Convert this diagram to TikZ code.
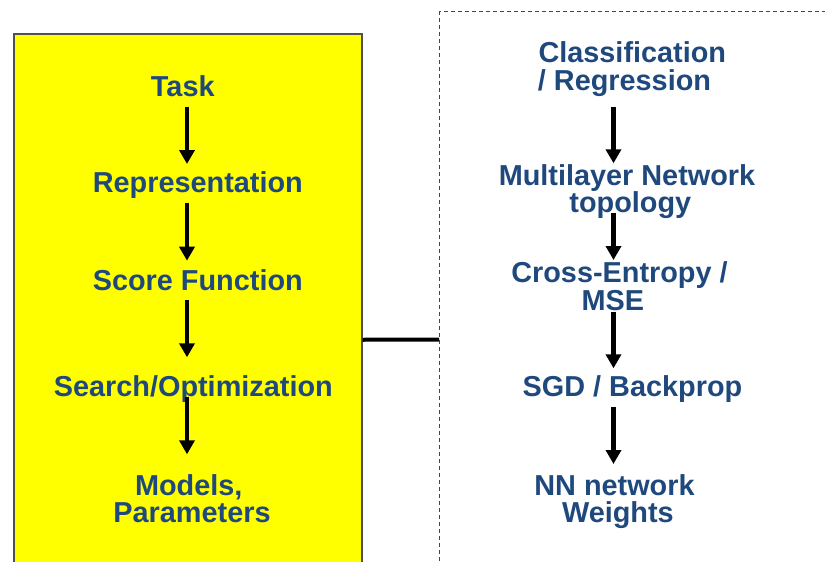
\documentclass[tikz,border=0pt]{standalone}
\usepackage{fontspec}
\setmainfont{Liberation Sans}
\usetikzlibrary{arrows.meta}
\definecolor{nnblue}{RGB}{31,73,125}
\definecolor{boxgray}{RGB}{80,80,80}
\definecolor{dashgray}{RGB}{70,70,70}
\definecolor{stageyellow}{RGB}{255,255,0}
\begin{document}
\begin{tikzpicture}[x=1pt,y=-1pt,
  lbl/.style={font=\bfseries\fontsize{28.85pt}{27.7pt}\selectfont,
    text=nnblue, align=center, inner sep=0pt, anchor=base},
  flow/.style={line width=4.2pt, -{Triangle[width=15pt,length=14pt]}},
  stagebox/.style={draw=boxgray, line width=1.5pt, fill=stageyellow,
    inner sep=0pt, anchor=north west},
  nnframe/.style={draw=dashgray, line width=1.2pt, dash pattern=on 4pt off 3pt,
    inner sep=0pt, anchor=north west},
  link/.style={line width=4pt}]
\useasboundingbox (0,0) rectangle (825,562);
\clip (0,0) rectangle (825,562);

% the two panels and the bar joining them
\node[stagebox, minimum width=348pt, minimum height=612pt] (stages) at (13,33) {};
\node[nnframe, minimum width=600pt, minimum height=656pt] (nnpanel) at (439,11) {};
\draw[link] (stages.east) -- (nnpanel.west);

% generic pipeline (node base = baseline of the last line)
\coordinate (lx) at (187,0);
\node[lbl] (task)   at (182.8,96)    {Task};
\node[lbl] (rep)    at (197.8,192.7) {Representation};
\node[lbl] (score)  at (197.8,290)   {Score Function};
\node[lbl] (search) at (193.3,396.7) {Search/Optimization};
\node[lbl] (models) at (192,522.7)   {Models,\hspace*{6.6pt}\\Parameters};

\draw[flow, shorten <=10.7pt, shorten >=28.7pt] (task.base -| lx) -- (rep.base -| lx);
\draw[flow, shorten <=10.6pt, shorten >=29.3pt] (rep.base -| lx) -- (score.base -| lx);
\draw[flow, shorten <=10pt, shorten >=39.4pt] (score.base -| lx) -- (search.base -| lx);
\draw[flow, shorten <=0pt, shorten >=68.4pt] (search.base -| lx) -- (models.base -| lx);

% neural network instance
\coordinate (rx) at (613.5,0);
\node[lbl] (cls)   at (632.3,90)    {Classification\\/ Regression\hspace*{15.6pt}};
\node[lbl] (mlp)   at (627,212.7)   {Multilayer Network\\\hspace*{6.6pt}topology};
\node[lbl] (loss)  at (619.5,310)   {Cross-Entropy /\\MSE\hspace*{13.4pt}};
\node[lbl] (sgd)   at (632.5,396.7) {SGD / Backprop};
\node[lbl] (wts)   at (614.5,522.7) {NN network\\\hspace*{6.8pt}Weights};

\draw[flow, shorten <=16.7pt, shorten >=49.4pt] (cls.base -| rx) -- (mlp.base -| rx);
\draw[flow, shorten <=0pt, shorten >=50pt] (mlp.base -| rx) -- (loss.base -| rx);
\draw[flow, shorten <=1.7pt, shorten >=28.4pt] (loss.base -| rx) -- (sgd.base -| rx);
\draw[flow, shorten <=10pt, shorten >=58.7pt] (sgd.base -| rx) -- (wts.base -| rx);
\end{tikzpicture}
\end{document}
